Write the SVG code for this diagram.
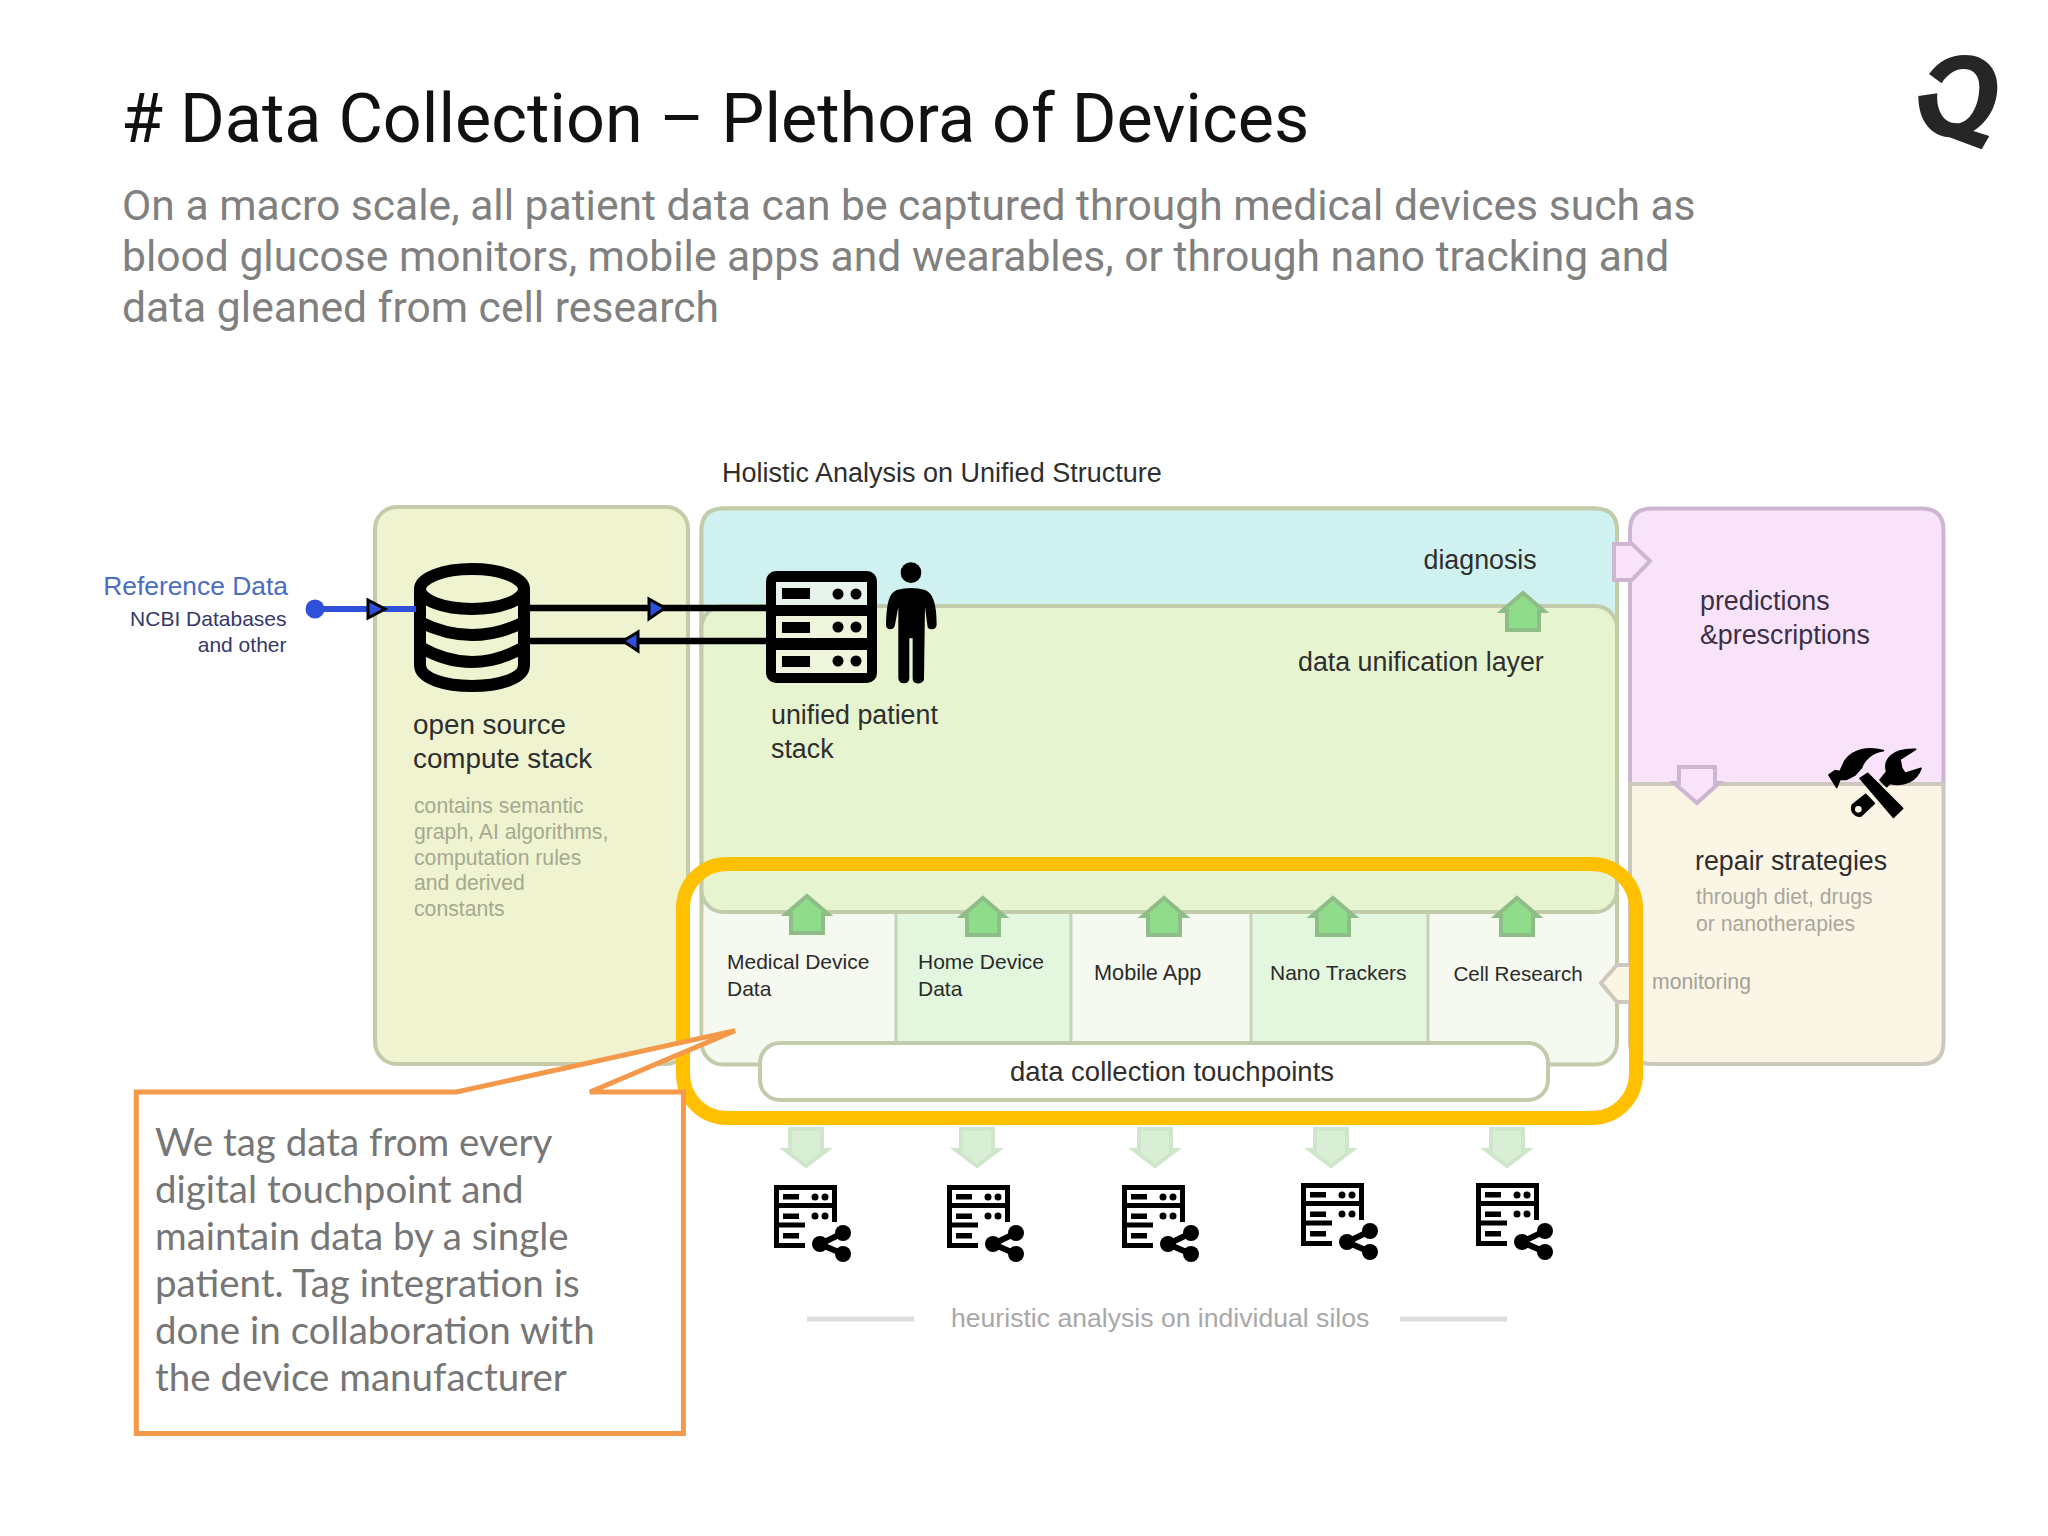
<svg xmlns="http://www.w3.org/2000/svg" width="2048" height="1536" viewBox="0 0 2048 1536">
<style>
text{font-family:"Liberation Sans",Arial,sans-serif;fill:#2e2e2e;font-size:26.8px}
.title{font-family:Roboto,sans-serif;font-size:68.3px;fill:#111}
.sub{font-family:Roboto,sans-serif;font-size:42.6px;fill:#808080}
.cell{font-size:21px;fill:#2a2a2a}
.note{font-size:21.2px;fill:#a6a98f}
.call{font-family:Lato,"Open Sans",sans-serif;font-size:38.5px;fill:#767676}
.up{fill:#8fdc8a;stroke:#8fbd87;stroke-width:4}
.down{fill:#d9efd5;stroke:#cfe6cb;stroke-width:4}
.ic{fill:#000}
.tool{fill:#000;stroke:#000;stroke-width:5;stroke-linejoin:round}
.line{stroke:#000;stroke-width:6.5;fill:none}
.tri{fill:#2f50d8;stroke:#000;stroke-width:3}
</style>
<defs>
<path id="uparrow" class="up" d="M0,-18 L21,0 L16,0 L16,19 L-16,19 L-16,0 L-21,0 Z"/>
<path id="downarrow" class="down" d="M-16,-18 L16,-18 L16,3 L21,3 L0,19 L-21,3 L-16,3 Z"/>
<g id="silo">
<path d="M31,60.5 H2.5 V2.5 H60.5 V37 M2.5,20.5 H60.5 M2.5,40 H31" fill="none" stroke="#000" stroke-width="5"/>
<rect x="9" y="9" width="16" height="5.5" class="ic"/><circle cx="41" cy="12" r="3.5" class="ic"/><circle cx="51" cy="12" r="3.5" class="ic"/>
<rect x="9" y="28.5" width="16" height="5.5" class="ic"/><circle cx="41" cy="31" r="3.5" class="ic"/><circle cx="51" cy="31" r="3.5" class="ic"/>
<rect x="9" y="48" width="16" height="5.5" class="ic"/>
<circle cx="46" cy="59" r="8" class="ic"/><circle cx="69" cy="48" r="8" class="ic"/><circle cx="69" cy="69" r="8" class="ic"/>
<path d="M69,48 L46,59 L69,69" fill="none" stroke="#000" stroke-width="6"/>
</g>
</defs>
<rect width="2048" height="1536" fill="#fff"/>

<g id="heading">
<text class="title" x="121" y="142"># Data Collection – Plethora of Devices</text>
<text class="sub" x="122" y="219.5">On a macro scale, all patient data can be captured through medical devices such as</text>
<text class="sub" x="122" y="270.5">blood glucose monitors, mobile apps and wearables, or through nano tracking and</text>
<text class="sub" x="122" y="321.7">data gleaned from cell research</text>
</g>
<g id="logo"><path transform="translate(1860,30) scale(.3333)" fill="#262626" d="M207,132 C235,95 270,75 315,75 C375,75 412,115 412,170 C412,225 385,275 340,303 L388,318 L365,358 L268,322 C215,318 175,275 175,198 L232,190 C228,240 250,280 290,280 C330,280 358,225 358,170 C358,135 340,117 310,117 C285,117 260,135 245,160 Z"/></g>

<text id="holistic-label" x="722" y="482" style="font-size:27px">Holistic Analysis on Unified Structure</text>

<g id="reference-data">
<text x="288" y="595" text-anchor="end" style="fill:#4a6cc4;font-size:26.4px">Reference Data</text>
<text x="286.5" y="626" text-anchor="end" style="fill:#35386a;font-size:21px">NCBI Databases</text>
<text x="286.5" y="652" text-anchor="end" style="fill:#35386a;font-size:21px">and other</text>
<circle cx="315" cy="609" r="9.5" fill="#2f50d8"/>
</g>

<g id="compute-stack">
<rect x="375" y="507" width="313" height="557" rx="22" fill="#eff3d0" stroke="#c5cba8" stroke-width="4"/>
<text x="413" y="734" style="font-size:27.8px">open source</text>
<text x="413" y="768" style="font-size:27.8px">compute stack</text>
<text class="note" x="414" y="813">contains semantic</text>
<text class="note" x="414" y="839">graph, AI algorithms,</text>
<text class="note" x="414" y="865">computation rules</text>
<text class="note" x="414" y="890">and derived</text>
<text class="note" x="414" y="916">constants</text>
</g>

<g id="unified-structure">
<rect x="701.5" y="508.5" width="915.5" height="556" rx="22" fill="#f5f9f0" stroke="#c2ccab" stroke-width="4"/>
<path d="M723.5,508.5 H1595 Q1617,508.5 1617,530.5 V650 H701.5 V530.5 Q701.5,508.5 723.5,508.5 Z" fill="#cff2f0" stroke="#c2ccab" stroke-width="4"/>
<text x="1423.5" y="569">diagnosis</text>
</g>
<g id="data-unification-layer">
<rect x="701.5" y="606" width="915.5" height="306" rx="22" fill="#e6f4cf" stroke="#c2ccab" stroke-width="4"/>
<text x="1298" y="671">data unification layer</text>
<text x="771" y="724">unified patient</text>
<text x="771" y="758">stack</text>
</g>

<g id="cell-medical"><rect x="703.5" y="914" width="192.5" height="127" fill="#f5f9f0"/><text class="cell" x="727" y="969">Medical Device</text><text class="cell" x="727" y="996">Data</text></g>
<g id="cell-home"><rect x="896" y="914" width="175" height="127" fill="#e3f6de"/><text class="cell" x="918" y="969">Home Device</text><text class="cell" x="918" y="996">Data</text></g>
<g id="cell-mobile"><rect x="1071" y="914" width="180" height="127" fill="#f5f9f0"/><text class="cell" x="1094" y="980" style="font-size:21.7px">Mobile App</text></g>
<g id="cell-nano"><rect x="1251" y="914" width="177" height="127" fill="#e3f6de"/><text class="cell" x="1270" y="980">Nano Trackers</text></g>
<g id="cell-cell"><rect x="1428" y="914" width="187" height="127" fill="#f5f9f0"/><text class="cell" x="1453.4" y="981" style="font-size:20.6px">Cell Research</text></g>
<path d="M896,914 V1041 M1071,914 V1041 M1251,914 V1041 M1428,914 V1041" stroke="#c8d2b8" stroke-width="3" fill="none"/>

<g id="touchpoints">
<rect x="760" y="1043" width="788" height="57" rx="20" fill="#fff" stroke="#c2ccab" stroke-width="4"/>
<text x="1172" y="1081" text-anchor="middle" style="font-size:27.5px">data collection touchpoints</text>
</g>

<g id="predictions">
<path d="M1652,508.5 H1921.5 Q1943.5,508.5 1943.5,530.5 V784 H1630 V530.5 Q1630,508.5 1652,508.5 Z" fill="#f8e3fb" stroke="#cdb7d0" stroke-width="4"/>
<text x="1700" y="609.5" style="fill:#3a2f44">predictions</text>
<text x="1700" y="643.5" style="fill:#3a2f44">&amp;prescriptions</text>
</g>
<g id="repair">
<path d="M1630,784 H1943.5 V1042 Q1943.5,1064 1921.5,1064 H1652 Q1630,1064 1630,1042 Z" fill="#fbf5e6" stroke="#cdc8bd" stroke-width="4"/>
<text x="1695" y="870">repair strategies</text>
<text class="note" x="1696" y="904" style="fill:#a9a79a">through diet, drugs</text>
<text class="note" x="1696" y="930.5" style="fill:#a9a79a">or nanotherapies</text>
<text class="note" x="1652" y="989" style="fill:#a3a196">monitoring</text>
</g>

<g id="tools" transform="translate(1825,740) scale(.3333)">
<path class="tool" d="M82,195 L122,163 L148,190 L108,228 A24,24 0 0 1 82,195 Z"/>
<circle cx="100" cy="208" r="10" fill="#fbf5e6"/>
<path class="tool" d="M165,120 L185,95 C175,60 200,25 272,28 L225,58 L230,85 L240,100 L288,85 C275,125 235,140 195,130 L185,140 Z"/>
<path class="tool" d="M105,115 L128,100 L233,205 L205,232 Z"/>
<path class="tool" d="M12,105 L30,92 L45,95 L60,62 C85,28 130,20 175,32 C140,35 115,65 110,82 L90,105 L65,118 L45,118 L35,142 Z"/>
</g>

<g id="database">
<ellipse cx="472" cy="589" rx="52" ry="20" fill="none" stroke="#000" stroke-width="12"/>
<path d="M420,589 V665 C420,693 524,693 524,665 V589" fill="none" stroke="#000" stroke-width="12"/>
<path d="M420,622 Q472,648 524,622 M420,647 Q472,677 524,647" fill="none" stroke="#000" stroke-width="12"/>
</g>

<g id="patient-stack">
<rect x="766" y="571" width="111" height="112" rx="10" fill="#000"/>
<rect x="776" y="582" width="91" height="23" fill="#e8f3ec"/>
<rect x="776" y="616" width="91" height="22" fill="#eef5dc"/>
<rect x="776" y="650" width="91" height="23" fill="#eef5dc"/>
<rect x="782" y="588" width="28" height="11"/><circle cx="838" cy="594" r="5.5"/><circle cx="856" cy="594" r="5.5"/>
<rect x="782" y="622" width="28" height="11"/><circle cx="838" cy="627" r="5.5"/><circle cx="856" cy="627" r="5.5"/>
<rect x="782" y="656" width="28" height="11"/><circle cx="838" cy="661" r="5.5"/><circle cx="856" cy="661" r="5.5"/>
<g transform="translate(750,550) scale(.3333)">
<circle cx="483" cy="68" r="31"/>
<path d="M440,120 Q483,108 526,120 C550,130 560,165 560,225 Q558,238 545,238 Q532,238 532,225 L525,170 L522,390 Q515,402 500,400 Q488,398 488,385 L488,265 H478 L478,385 Q478,400 462,400 Q446,400 445,385 L445,170 L435,225 Q432,238 420,238 Q407,236 408,222 C410,165 415,130 440,120 Z"/>
</g>
</g>

<g id="connectors">
<path d="M315,609 H416" stroke="#2f50d8" stroke-width="6" fill="none"/>
<path class="tri" d="M368,600 L385,609 L368,618 Z"/>
<path class="line" d="M530,608 H767"/>
<path class="line" d="M530,641 H767"/>
<path class="tri" d="M649,599 L665,608 L649,619 Z"/>
<path class="tri" d="M638,632 L623,641 L638,651 Z"/>
<use href="#uparrow" x="807" y="914"/>
<use href="#uparrow" x="983" y="916"/>
<use href="#uparrow" x="1164" y="916"/>
<use href="#uparrow" x="1333" y="916"/>
<use href="#uparrow" x="1517" y="916"/>
<use href="#uparrow" x="1523" y="611"/>
<use href="#downarrow" x="806" y="1147"/>
<use href="#downarrow" x="977" y="1147"/>
<use href="#downarrow" x="1155" y="1147"/>
<use href="#downarrow" x="1331" y="1147"/>
<use href="#downarrow" x="1507" y="1147"/>
<path d="M1614,544 H1632 L1650,561 L1632,580 H1614 Z" fill="#f8e3fb" stroke="#cdb7d0" stroke-width="4"/>
<path d="M1679,767 H1715 V783 H1719 L1697,803 L1674,783 H1679 Z" fill="#f8e3fb" stroke="#cdb7d0" stroke-width="4"/>
<path d="M1632,965 H1617 L1601,983 L1617,1002 H1632" fill="#fbf5e6" stroke="#cdc8bd" stroke-width="4"/>
</g>

<g id="silos">
<use href="#silo" x="774" y="1185"/>
<use href="#silo" x="947" y="1185"/>
<use href="#silo" x="1122" y="1185"/>
<use href="#silo" x="1301" y="1183"/>
<use href="#silo" x="1476" y="1183"/>
</g>
<g id="silo-caption">
<path d="M807,1319 H914 M1400,1319 H1507" stroke="#dcdcdc" stroke-width="5"/>
<text x="951" y="1327" style="fill:#a8a8a8;font-size:26.6px">heuristic analysis on individual silos</text>
</g>

<rect id="highlight" x="683" y="864" width="953" height="254" rx="44" fill="none" stroke="#ffc000" stroke-width="14"/>

<g id="callout">
<path d="M136.3,1092 H456.6 L735,1030.6 L590,1092 H683.4 V1433.5 H136.3 Z" fill="#fff" stroke="#f4994a" stroke-width="5"/>
<text class="call" x="155" y="1156">We tag data from every</text>
<text class="call" x="155" y="1203">digital touchpoint and</text>
<text class="call" x="155" y="1250">maintain data by a single</text>
<text class="call" x="155" y="1297">patient. Tag integration is</text>
<text class="call" x="155" y="1344">done in collaboration with</text>
<text class="call" x="155" y="1391">the device manufacturer</text>
</g>
</svg>
